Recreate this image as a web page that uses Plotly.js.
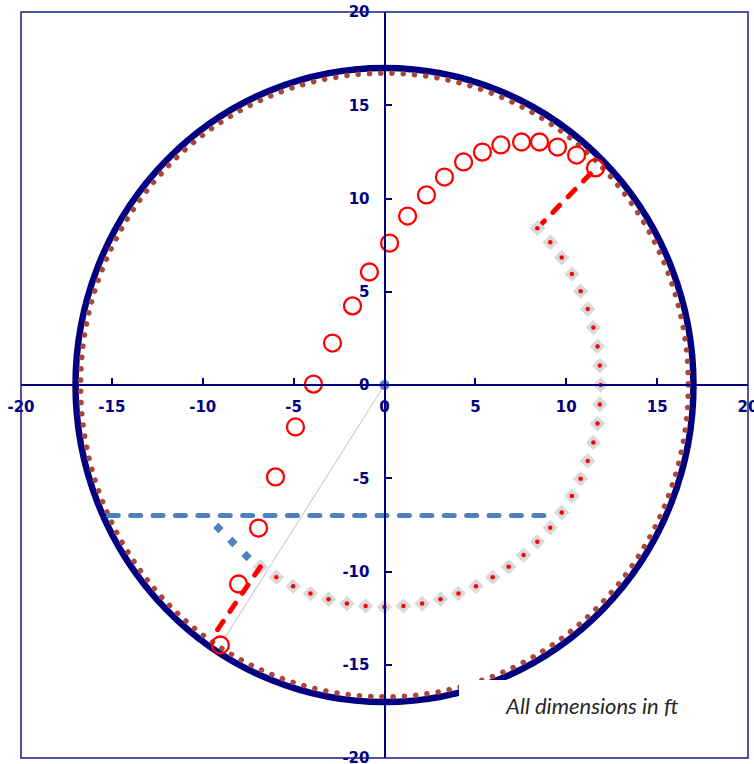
<!DOCTYPE html>
<html>
<head>
<meta charset="utf-8">
<script src="https://cdn.plot.ly/plotly-3.0.1.min.js"></script>
<style>html,body{margin:0;padding:0;background:#fff;}#chart{width:754px;height:764px;}</style>
</head>
<body>
<div id="chart"></div>
<script>
// ---- data ----
const bigCircleRadius = 17;
const dotCircleRadius = 16.72;

const pathX = [-9.03, -8.03, -6.93, -6.00, -4.90, -3.91, -2.86, -1.76, -0.83, 0.28, 1.27, 2.31, 3.30, 4.35, 5.39, 6.40, 7.54, 8.53, 9.52, 10.57, 11.61];
const pathY = [-13.94, -10.67, -7.67, -4.93, -2.25, 0.05, 2.25, 4.24, 6.06, 7.61, 9.06, 10.19, 11.15, 11.96, 12.49, 12.87, 13.03, 13.03, 12.76, 12.33, 11.64];

const arcX = [8.41, 9.12, 9.75, 10.31, 10.79, 11.18, 11.49, 11.72, 11.85, 11.90, 11.85, 11.72, 11.49, 11.18, 10.79, 10.31, 9.75, 9.12, 8.41, 7.65, 6.83, 5.95, 5.03, 4.07, 3.08, 2.07, 1.04, 0.00, -1.04, -2.07, -3.08, -4.07, -5.03, -5.95, -6.83];
const arcY = [8.41, 7.65, 6.83, 5.95, 5.03, 4.07, 3.08, 2.07, 1.04, 0.00, -1.04, -2.07, -3.08, -4.07, -5.03, -5.95, -6.83, -7.65, -8.41, -9.12, -9.75, -10.31, -10.79, -11.18, -11.49, -11.72, -11.85, -11.90, -11.85, -11.72, -11.49, -11.18, -10.79, -10.31, -9.75];

const blueDiamondX = [-9.14, -8.37, -7.59];
const blueDiamondY = [-7.67, -8.42, -9.17];

const hLineX = [-15.2, 9.3];
const hLineY = [-7, -7];

const dashUpX = [8.41, 11.55];
const dashUpY = [8.41, 11.55];
const dashLowX = [-6.83, -9.32];
const dashLowY = [-9.75, -13.31];

const radiusLineX = [0, -8.75];
const radiusLineY = [0, -13.5];

const originX = [0];
const originY = [0];

const tickVals = [-20, -15, -10, -5, 0, 5, 10, 15, 20];
const tickText = ['-20', '-15', '-10', '-5', '0', '5', '10', '15', '20'];
const noteText = 'All dimensions in ft';

// ---- styles ----
const NAVY = '#000080';
const BROWN = '#A5473D';
const STEEL = '#4F81BD';
const RED = '#FF0000';

const traces = [
  {x: radiusLineX, y: radiusLineY, mode: 'lines', line: {color: '#CFCFCF', width: 1.2}},
  {x: hLineX, y: hLineY, mode: 'lines', line: {color: STEEL, width: 5, dash: '10px,12.4px'}},
  {x: dashUpX, y: dashUpY, mode: 'lines', line: {color: RED, width: 5, dash: '10px,12px'}},
  {x: arcX, y: arcY, mode: 'markers', marker: {symbol: 'diamond', size: 12, color: '#D9D9D9'}},
  {x: dashLowX, y: dashLowY, mode: 'lines', line: {color: RED, width: 5, dash: '10px,12px'}},
  {x: arcX, y: arcY, mode: 'markers', marker: {symbol: 'circle', size: 4.5, color: RED}},
  {x: blueDiamondX, y: blueDiamondY, mode: 'markers', marker: {symbol: 'diamond', size: 8, color: STEEL}},
  {x: pathX, y: pathY, mode: 'markers', marker: {symbol: 'circle-open', size: 17, color: RED, line: {width: 2.3, color: RED}}},
  {x: originX, y: originY, mode: 'markers', marker: {symbol: 'circle', size: 10, color: STEEL}}
];

const axisCommon = {
  range: [-20, 20],
  tickvals: tickVals,
  ticktext: tickText,
  showgrid: false,
  zeroline: false,
  showline: true,
  linecolor: NAVY,
  linewidth: 2,
  ticks: 'inside',
  ticklen: 6,
  tickwidth: 2,
  tickcolor: NAVY,
  ticklabeloverflow: 'allow',
  tickfont: {family: 'DejaVu Sans', size: 15, color: NAVY, weight: 'bold'},
  anchor: 'free',
  position: 0.5,
  fixedrange: true
};

const layout = {
  width: 754,
  height: 764,
  margin: {l: 21, r: 6, t: 12, b: 6},
  paper_bgcolor: '#FFFFFF',
  plot_bgcolor: '#FFFFFF',
  showlegend: false,
  xaxis: Object.assign({}, axisCommon, {side: 'bottom', ticklabelstandoff: 8}),
  yaxis: Object.assign({}, axisCommon, {side: 'left', ticklabelstandoff: 11}),
  shapes: [
    {type: 'circle', xref: 'x', yref: 'y', x0: -bigCircleRadius, x1: bigCircleRadius, y0: -bigCircleRadius, y1: bigCircleRadius,
     line: {color: NAVY, width: 6.5}, layer: 'below'},
    {type: 'circle', xref: 'x', yref: 'y', x0: -dotCircleRadius, x1: dotCircleRadius, y0: -dotCircleRadius, y1: dotCircleRadius,
     line: {color: BROWN, width: 5.5, dash: '0.1px,11.2px'}, layer: 'below'},
    {type: 'rect', xref: 'paper', yref: 'paper', x0: 0, x1: 1, y0: 0, y1: 1,
     line: {color: '#1A1A88', width: 1.5}, layer: 'above'}
  ],
  annotations: [
    {xref: 'paper', yref: 'paper', x: 0.7855, y: 0.0710, xanchor: 'center', yanchor: 'middle',
     width: 266, height: 50, align: 'center', valign: 'middle', bgcolor: '#FFFFFF', borderwidth: 0, borderpad: 0,
     text: noteText, showarrow: false,
     font: {family: 'Lato', size: 22, color: '#262626', style: 'italic'}}
  ]
};

Plotly.newPlot('chart', traces, layout, {displayModeBar: false, staticPlot: true}).then(function () {
  document.querySelectorAll('g.shapelayer path').forEach(function (p) {
    p.style.strokeLinecap = 'round';
  });
  document.querySelectorAll('g.scatterlayer path.js-line').forEach(function (p) {
    p.style.strokeLinecap = 'round';
  });
});
</script>
</body>
</html>
